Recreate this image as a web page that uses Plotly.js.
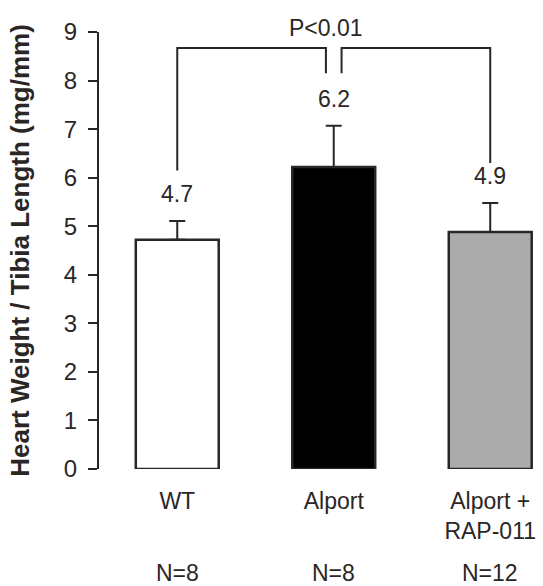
<!DOCTYPE html>
<html>
<head>
<meta charset="utf-8">
<script src="https://cdn.plot.ly/plotly-3.0.1.min.js"></script>
<style>html,body{margin:0;padding:0;background:#fff;}#chart{width:543px;height:586px;}</style>
</head>
<body>
<div id="chart"></div>
<script>
var categories = ["WT", "Alport", "Alport +<br>RAP-011"];
var means = [4.72, 6.22, 4.88];
var errUpper = [0.39, 0.85, 0.6];
var valueLabels = ["4.7", "6.2", "4.9"];
var nLabels = ["N=8", "N=8", "N=12"];
var barColors = ["#ffffff", "#000000", "#ababab"];
var yTicks = [0, 1, 2, 3, 4, 5, 6, 7, 8, 9];
var pText = "P<0.01";
var bracketTop = 8.67;
var bracketLegEnds = [6.15, 8.15, 8.15, 6.3];
var bracketLegX = [0, 0.95, 1.05, 2];

var xIdx = categories.map(function(_, i){ return i; });
var ink = "#2b2626";
var font = "Liberation Sans, Arial, sans-serif";

var trace = {
  type: "bar",
  x: xIdx,
  y: means,
  width: 0.53,
  marker: {color: barColors, line: {color: ink, width: 2.5}},
  error_y: {type: "data", symmetric: false, array: errUpper, arrayminus: means.map(function(){return 0;}),
            color: ink, thickness: 2, width: 8},
  hoverinfo: "skip"
};

var annotations = [];
for (var i = 0; i < categories.length; i++) {
  annotations.push({x: xIdx[i], y: means[i] + errUpper[i], xref: "x", yref: "y", text: valueLabels[i],
    showarrow: false, yanchor: "middle", yshift: 27, font: {family: font, size: 23, color: ink}});
  annotations.push({x: xIdx[i], y: -0.238, xref: "x", yref: "paper", text: nLabels[i],
    showarrow: false, yanchor: "middle", font: {family: font, size: 23, color: ink}});
}
annotations.push({x: 1, y: bracketTop, xref: "x", yref: "y", text: pText, showarrow: false,
  yanchor: "bottom", yshift: 5, xshift: -8, font: {family: font, size: 23, color: ink}});

var shapes = [
  {type: "path", xref: "x", yref: "y",
   path: "M" + bracketLegX[0] + "," + bracketLegEnds[0] + " L" + bracketLegX[0] + "," + bracketTop +
         " L" + bracketLegX[1] + "," + bracketTop + " L" + bracketLegX[1] + "," + bracketLegEnds[1],
   line: {color: ink, width: 2}},
  {type: "path", xref: "x", yref: "y",
   path: "M" + bracketLegX[2] + "," + bracketLegEnds[2] + " L" + bracketLegX[2] + "," + bracketTop +
         " L" + bracketLegX[3] + "," + bracketTop + " L" + bracketLegX[3] + "," + bracketLegEnds[3],
   line: {color: ink, width: 2}}
];

var layout = {
  width: 543, height: 586,
  margin: {l: 99, r: 3, t: 32, b: 117},
  paper_bgcolor: "#ffffff", plot_bgcolor: "#ffffff",
  showlegend: false,
  font: {family: font, color: ink},
  xaxis: {
    range: [-0.5, 2.318],
    tickmode: "array", tickvals: xIdx, ticktext: categories,
    showline: false, showgrid: false, zeroline: false, ticks: "",
    ticklabelstandoff: 16,
    tickfont: {family: font, size: 23, color: ink}
  },
  yaxis: {
    range: [0, 9],
    tickmode: "array", tickvals: yTicks,
    showline: true, linecolor: ink, linewidth: 2,
    ticks: "outside", ticklen: 9, tickwidth: 2, tickcolor: ink,
    ticklabelstandoff: 6,
    showgrid: false, zeroline: false,
    tickfont: {family: font, size: 24, color: ink},
    title: {text: "Heart Weight / Tibia Length (mg/mm)", standoff: 27,
            font: {family: font, size: 26, color: ink, weight: "bold"}}
  },
  annotations: annotations,
  shapes: shapes
};

Plotly.newPlot("chart", [trace], layout, {staticPlot: true, displayModeBar: false});
</script>
</body>
</html>
